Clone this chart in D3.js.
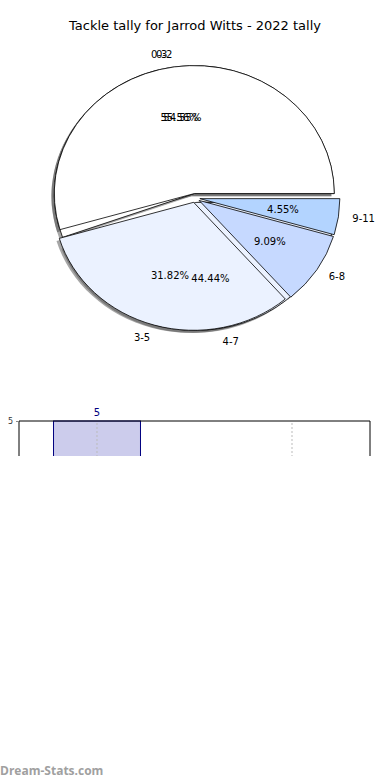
<!DOCTYPE html>
<html>
<head>
<meta charset="utf-8">
<script src="https://cdn.jsdelivr.net/npm/d3@7"></script>
<style>
  body { margin: 0; background: #fff; }
  svg { display: block; font-family: "DejaVu Sans", sans-serif; }
</style>
</head>
<body>
<div id="chart"></div>
<script>
// pie 1 (drawn on top)
const groupsA = ['0-2', '3-5', '6-8', '9-11']
const countsA = [12, 7, 2, 1]
// pie 2 (drawn underneath)
const groupsB = ['0-3', '4-7']
const countsB = [5, 4]
const colors = ['#ffffff', '#ebf2ff', '#c6d9ff', '#b3d4ff']

// bar chart below (cut off in the picture)
const barCats = ['a', 'b']
const barVals = [5, 0]
const barTicks = [5]

const w = 390
const h = 780
const svg = d3.select('#chart').append('svg')
              .attr('width', w)
              .attr('height', h)

svg.append('text')
   .attr('x', 195)
   .attr('y', 30)
   .attr('text-anchor', 'middle')
   .style('font-size', '13px')
   .text('Tackle tally for Jarrod Witts - 2022 tally')

const cx = 195, cy = 198, rx = 140, ry = 128
const explode = 0.035

const pie = d3.pie().sort(null).startAngle(Math.PI / 2).endAngle(Math.PI / 2 - 2 * Math.PI)
const arc = d3.arc().innerRadius(0).outerRadius(rx)
const mid = d => Math.PI / 2 - (d.startAngle + d.endAngle) / 2

const pieG = svg.append('g')
                .attr('transform', 'translate(' + cx + ',' + cy + ') scale(1,' + (ry / rx) + ')')
const shadowG = pieG.append('g')
const wedgeG = pieG.append('g')
const labelG = svg.append('g').style('font-size', '10px')

function drawPie(counts, groups) {
  const slices = pie(counts)
  const total = d3.sum(counts)
  slices.forEach((d, i) => {
    const t = mid(d)
    const ox = explode * rx * Math.cos(t)
    const oy = -explode * rx * Math.sin(t)
    shadowG.append('path')
      .attr('d', arc(d))
      .attr('transform', 'translate(' + (ox - 0.02 * rx) + ',' + (oy + 0.02 * rx) + ')')
      .attr('fill', '#4d4d4d')
      .attr('fill-opacity', 0.5)
    wedgeG.append('path')
      .attr('d', arc(d))
      .attr('transform', 'translate(' + ox + ',' + oy + ')')
      .attr('fill', colors[i])
      .attr('stroke', '#000')
      .attr('stroke-width', 0.8)
      .attr('vector-effect', 'non-scaling-stroke')

    const lx = cx + (explode + 1.1) * rx * Math.cos(t)
    const ly = cy - (explode + 1.1) * ry * Math.sin(t)
    labelG.append('text')
      .attr('x', lx)
      .attr('y', ly)
      .attr('dy', '0.35em')
      .attr('text-anchor', Math.cos(t) > 0 ? 'start' : 'end')
      .text(groups[i])
    const px = cx + (explode + 0.6) * rx * Math.cos(t)
    const py = cy - (explode + 0.6) * ry * Math.sin(t)
    labelG.append('text')
      .attr('x', px)
      .attr('y', py)
      .attr('dy', '0.35em')
      .attr('text-anchor', 'middle')
      .text((counts[i] / total * 100).toFixed(2) + '%')
  })
}
drawPie(countsB, groupsB)
drawPie(countsA, groupsA)

// bar chart, only the top strip is visible
const plotTop = 421, plotLeft = 19, plotRight = 370, cut = 456
const x = d3.scalePoint().domain(barCats).range([plotLeft, plotRight]).padding(0.4)
const y = d3.scaleLinear().domain([0, 5]).range([640, plotTop])

svg.append('clipPath').attr('id', 'cut')
   .append('rect').attr('x', 0).attr('y', 0).attr('width', w).attr('height', cut)
const bar = svg.append('g').attr('clip-path', 'url(#cut)')
const bw = x.step() * 0.446

bar.selectAll('rect.bar')
   .data(barVals)
   .enter()
   .append('rect')
   .attr('class', 'bar')
   .attr('x', (d, i) => x(barCats[i]) - bw / 2)
   .attr('y', d => y(d))
   .attr('width', bw)
   .attr('height', d => y(0) - y(d))
   .attr('fill', '#ccccec')
   .attr('stroke', '#000080')
   .attr('stroke-width', 1)
   .style('display', d => d > 0 ? null : 'none')

bar.selectAll('line.grid')
   .data(barCats)
   .enter()
   .append('line')
   .attr('x1', d => x(d)).attr('x2', d => x(d))
   .attr('y1', plotTop + 2).attr('y2', y(0))
   .attr('stroke', '#bbb')
   .attr('stroke-dasharray', '2,2')

bar.append('path')
   .attr('d', 'M' + plotLeft + ',' + y(0) + 'V' + plotTop + 'H' + plotRight + 'V' + y(0))
   .attr('fill', 'none')
   .attr('stroke', '#000')
   .attr('stroke-width', 1)

const yAxis = d3.axisLeft(y).tickValues(barTicks).tickSize(3).tickFormat(d3.format('d'))
svg.append('g')
   .attr('transform', 'translate(' + plotLeft + ',0)')
   .call(yAxis)
   .call(g => g.select('.domain').remove())
   .call(g => g.selectAll('text').style('font-size', '8px').attr('font-family', 'DejaVu Sans').attr('fill', '#333'))
   .call(g => g.selectAll('line').attr('stroke', '#888'))

svg.selectAll('text.val')
   .data(barVals.filter(d => d > 0))
   .enter()
   .append('text')
   .attr('class', 'val')
   .attr('x', d => x(barCats[barVals.indexOf(d)]))
   .attr('y', d => y(d) - 5)
   .attr('text-anchor', 'middle')
   .attr('fill', '#000080')
   .style('font-size', '10px')
   .text(d => d)

svg.append('text')
   .attr('x', 0)
   .attr('y', 775)
   .attr('fill', '#a0a0a0')
   .style('font-size', '12px')
   .style('font-family', '"Open Sans", sans-serif')
   .style('font-weight', 'bold')
   .text('Dream-Stats.com')
</script>
</body>
</html>
